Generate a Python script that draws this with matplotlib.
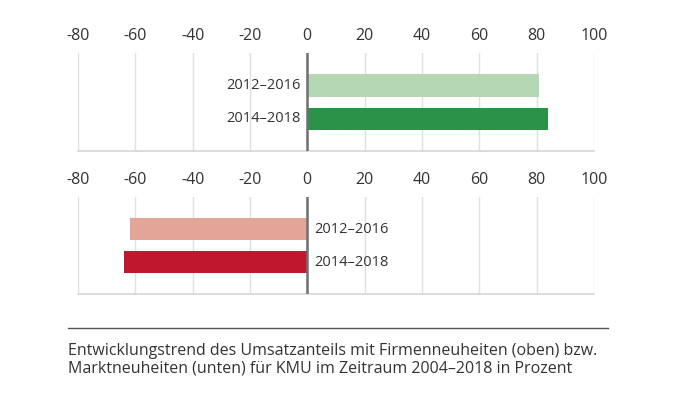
import matplotlib.pyplot as plt
from matplotlib.lines import Line2D

plt.rcParams['font.family'] = ['Open Sans', 'DejaVu Sans']

periods = ['2012–2016', '2014–2018']
firm_news = [81, 84]        # Firmenneuheiten (oben)
market_news = [-62, -64]    # Marktneuheiten (unten)
ticks = [-80, -60, -40, -20, 0, 20, 40, 60, 80, 100]
tick_labels = ['-80', '-60', '-40', '-20', '0', '20', '40', '60', '80', '100']
caption = ('Entwicklungstrend des Umsatzanteils mit Firmenneuheiten (oben) bzw.\n'
           'Marktneuheiten (unten) für KMU im Zeitraum 2004–2018 in Prozent')

green = ['#b6d7b4', '#2a9249']
red = ['#e2a597', '#c0172f']

fig = plt.figure(figsize=(6.95, 3.95), dpi=100)
ax_top = fig.add_axes([0.1122, 0.6177, 0.7424, 0.248])
ax_bot = fig.add_axes([0.1122, 0.2557, 0.7424, 0.2456])


def style(ax):
    ax.set_xlim(-80, 100)
    ax.set_ylim(1.96, -0.97)
    ax.set_xticks(ticks)
    ax.set_xticklabels(tick_labels)
    ax.xaxis.tick_top()
    ax.tick_params(axis='x', length=0, pad=6.5, labelsize=11.5, labelcolor='#333333')
    ax.set_yticks([])
    for s in ['top', 'left', 'right']:
        ax.spines[s].set_visible(False)
    ax.spines['bottom'].set_color('#d6d6d6')
    ax.spines['bottom'].set_linewidth(1.2)
    for t in ticks:
        ax.axvline(t, color='#e0e0e0', lw=1, zorder=0)
    ax.axvline(0, color='#707070', lw=1.8, zorder=3)


style(ax_top)
ax_top.barh([0, 1], firm_news, height=0.68, color=green, zorder=2)
for i, p in enumerate(periods):
    ax_top.annotate(p, (0, i), xytext=(-5, 0), textcoords='offset points',
                    ha='right', va='center', fontsize=10.5, color='#333333')

style(ax_bot)
ax_bot.barh([0, 1], market_news, height=0.68, color=red, zorder=2)
for i, p in enumerate(periods):
    ax_bot.annotate(p, (0, i), xytext=(5, 0), textcoords='offset points',
                    ha='left', va='center', fontsize=10.5, color='#333333')

fig.add_artist(Line2D([68 / 695, 608 / 695], [1 - 328 / 395] * 2,
                      color='#555555', lw=1))
fig.text(68 / 695, 1 - 343 / 395, caption, ha='left', va='top',
         fontsize=11.5, color='#333333', linespacing=1.15)

plt.savefig('out.png', dpi=100)
